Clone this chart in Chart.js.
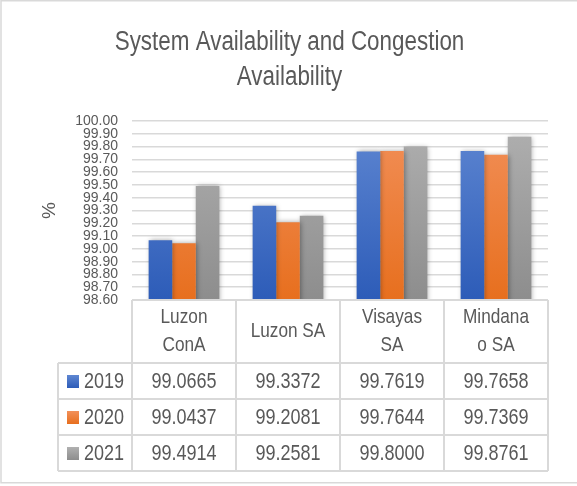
<!DOCTYPE html>
<html>
<head>
<meta charset="utf-8">
<script src="https://cdn.jsdelivr.net/npm/chart.js@4"></script>
<style>
  body { margin: 0; background: #fff; }
  canvas { display: block; }
</style>
</head>
<body>
<canvas id="availCanvas" width="577" height="486"></canvas>
<script>
// data
const categories = [['Luzon', 'ConA'], ['Luzon SA'], ['Visayas', 'SA'], ['Mindana', 'o SA']];
const years = ['2019', '2020', '2021'];
const values2019 = [99.0665, 99.3372, 99.7619, 99.7658];
const values2020 = [99.0437, 99.2081, 99.7644, 99.7369];
const values2021 = [99.4914, 99.2581, 99.8000, 99.8761];
const titleLines = ['System Availability and Congestion', 'Availability'];
const yMin = 98.6;
const yMax = 100;
const yStep = 0.1;

const TEXT = '#595959';
const LINE = '#d9d9d9';
const SANS = '"Liberation Sans", Arial, sans-serif';

// gradient stops per series (top, bottom)
const seriesColors = [
    ['#5f87d2', '#2d5cb8'],
    ['#f2905a', '#e76f1e'],
    ['#b0b0b0', '#8d8d8d']
];

function barGradient(idx) {
    return function(context) {
        const area = context.chart.chartArea;
        if (!area) return seriesColors[idx][1];
        const g = context.chart.ctx.createLinearGradient(0, area.top, 0, area.bottom);
        g.addColorStop(0, seriesColors[idx][0]);
        g.addColorStop(1, seriesColors[idx][1]);
        return g;
    };
}

// narrow text: the sans squeezed horizontally, no narrow font installed
function narrowText(ctx, text, x, y, size, align, squeeze) {
    ctx.save();
    ctx.translate(x, y);
    ctx.scale(squeeze || 0.82, 1);
    ctx.font = size + 'px ' + SANS;
    ctx.textAlign = align || 'center';
    ctx.fillText(text, 0, 0);
    ctx.restore();
}

// soft shadow behind the bars, like the Excel style
const shadowPlugin = {
    id: 'barShadow',
    beforeDatasetsDraw(chart) {
        const ctx = chart.ctx;
        ctx.save();
        ctx.shadowColor = 'rgba(0,0,0,0.35)';
        ctx.shadowBlur = 5;
        ctx.shadowOffsetX = 1;
        ctx.shadowOffsetY = 0;
    },
    afterDatasetsDraw(chart) {
        chart.ctx.restore();
    }
};

// title plus the data table under the plot, columns follow the x scale
const tablePlugin = {
    id: 'dataTable',
    afterDraw(chart) {
        const ctx = chart.ctx;
        const xs = chart.scales.x;
        const area = chart.chartArea;
        const n = categories.length;
        const catW = (area.right - area.left) / n;
        const headerBottom = area.bottom + 63;
        const rowH = 36;
        const legendLeft = 58;
        const tableBottom = headerBottom + rowH * years.length;
        const seriesData = [values2019, values2020, values2021];

        ctx.save();
        ctx.fillStyle = TEXT;
        ctx.textBaseline = 'alphabetic';
        titleLines.forEach(function(line, k) {
            narrowText(ctx, line, 289.5, 49.5 + k * 35.5, 27, 'center', 0.83);
        });

        ctx.strokeStyle = LINE;
        ctx.lineWidth = 2;
        ctx.beginPath();
        ctx.moveTo(area.left, area.bottom);
        ctx.lineTo(area.right, area.bottom);
        for (let r = 0; r <= years.length; r++) {
            const y = headerBottom + r * rowH;
            ctx.moveTo(legendLeft, y);
            ctx.lineTo(area.right, y);
        }
        for (let i = 0; i <= n; i++) {
            const x = i < n ? xs.getPixelForValue(i) - catW / 2 : xs.getPixelForValue(n - 1) + catW / 2;
            ctx.moveTo(x, area.bottom);
            ctx.lineTo(x, tableBottom);
        }
        ctx.moveTo(legendLeft, headerBottom);
        ctx.lineTo(legendLeft, tableBottom);
        ctx.stroke();

        ctx.textBaseline = 'middle';
        const headMid = (area.bottom + headerBottom) / 2;
        categories.forEach(function(lines, i) {
            const cx = xs.getPixelForValue(i);
            lines.forEach(function(line, k) {
                narrowText(ctx, line, cx, headMid + (k - (lines.length - 1) / 2) * 28, 21);
            });
        });
        years.forEach(function(yr, r) {
            const cy = headerBottom + r * rowH + rowH / 2;
            const g = ctx.createLinearGradient(0, cy - 6, 0, cy + 7);
            g.addColorStop(0, seriesColors[r][0]);
            g.addColorStop(1, seriesColors[r][1]);
            ctx.fillStyle = g;
            ctx.fillRect(67, cy - 6, 12, 13);
            ctx.fillStyle = TEXT;
            narrowText(ctx, yr, 84, cy + 1, 22, 'left');
            seriesData[r].forEach(function(v, i) {
                narrowText(ctx, v.toFixed(4), xs.getPixelForValue(i), cy + 1, 22);
            });
        });

        // outer chart frame
        ctx.strokeStyle = LINE;
        ctx.lineWidth = 1.5;
        ctx.strokeRect(1, 0.75, 590, 482);
        ctx.restore();
    }
};

const chart = new Chart(document.getElementById('availCanvas').getContext('2d'), {
    type: 'bar',
    data: {
        labels: categories,
        datasets: [
            { label: years[0], data: values2019, backgroundColor: barGradient(0) },
            { label: years[1], data: values2020, backgroundColor: barGradient(1) },
            { label: years[2], data: values2021, backgroundColor: barGradient(2) }
        ]
    },
    options: {
        responsive: false,
        animation: false,
        categoryPercentage: 0.68,
        barPercentage: 1.0,
        layout: { padding: { top: 121, left: 0, right: 29, bottom: 186 } },
        plugins: {
            legend: { display: false },
            tooltip: { enabled: false },
            title: { display: false }
        },
        scales: {
            x: { display: false },
            y: {
                min: yMin,
                max: yMax,
                afterFit(scale) { scale.width = 132; },
                grid: { color: LINE, lineWidth: 1.5, drawTicks: false },
                border: { display: false },
                ticks: {
                    stepSize: yStep,
                    autoSkip: false,
                    padding: 14,
                    color: TEXT,
                    font: { family: SANS, size: 14 },
                    callback: function(v) { return Number(v).toFixed(2); }
                },
                title: {
                    display: true,
                    text: '%',
                    color: TEXT,
                    font: { family: SANS, size: 19 },
                    padding: { top: 38, bottom: 0 }
                }
            }
        }
    },
    plugins: [shadowPlugin, tablePlugin]
});
</script>
</body>
</html>
